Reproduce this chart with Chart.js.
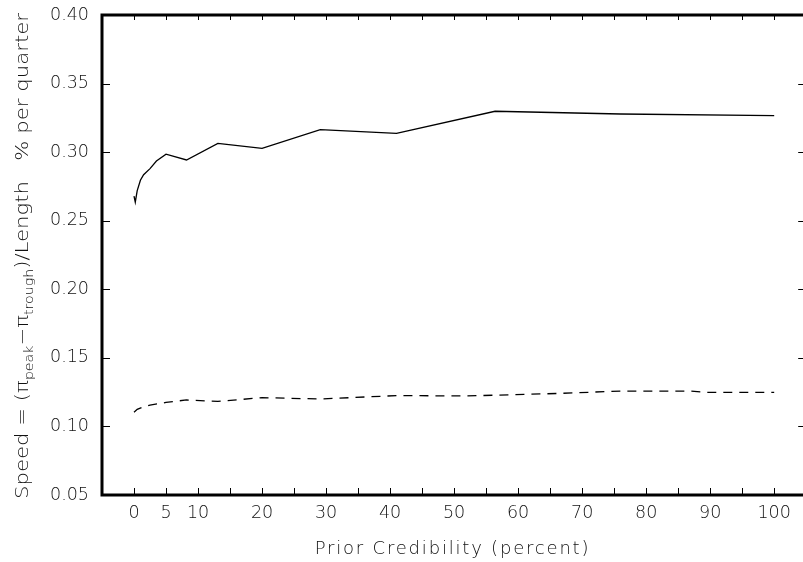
<!DOCTYPE html>
<html>
<head>
<meta charset="utf-8">
<script src="https://cdn.jsdelivr.net/npm/chart.js@4.4.0/dist/chart.umd.min.js"></script>
<style>
  html, body { margin: 0; padding: 0; background: #fff; overflow: hidden; }
  #wrap { width: 803px; height: 562px; position: relative; }
</style>
</head>
<body>
<div id="wrap"><canvas id="speedChart" width="803" height="562"></canvas></div>
<script>
// prior credibility (percent) and speed
const solidX = [0, 0.2, 0.5, 1, 1.5, 2.5, 3.5, 5, 8.2, 13.1, 20, 29.1, 41, 56.4, 76, 100];
const solidY = [0.268, 0.2635, 0.272, 0.2795, 0.2835, 0.288, 0.2935, 0.2985, 0.2943, 0.3064, 0.3028, 0.3164, 0.3137, 0.3298, 0.3278, 0.3266];

const dashedX = [0, 0.5, 1.5, 2.5, 5, 8.2, 13.1, 20, 29.1, 41, 52, 56.4, 66, 76, 87, 89, 100];
const dashedY = [0.1103, 0.1125, 0.1144, 0.1156, 0.1175, 0.1193, 0.1182, 0.1210, 0.1200, 0.1225, 0.1222, 0.1228, 0.1240, 0.1258, 0.1258, 0.1249, 0.1249];

const xTickMarks = [0, 5, 10, 15, 20, 25, 30, 35, 40, 45, 50, 55, 60, 65, 70, 75, 80, 85, 90, 95, 100];
const xTickLabels = [0, 5, 10, 20, 30, 40, 50, 60, 70, 80, 90, 100];
const yTickLabels = [0.05, 0.10, 0.15, 0.20, 0.25, 0.30, 0.35, 0.40];

const xTitle = 'Prior Credibility (percent)';
// y title pieces: [text, is subscript]
const yTitleParts = [
  ['Speed = (\u03c0', false],
  ['peak', true],
  ['\u2212\u03c0', false],
  ['trough', true],
  [')/Length   % per quarter', false]
];

const FONT = 'DejaVu Sans';
const INK = '#111';

// box round the plot, with the small inward ticks on all four sides
const framePlugin = {
  id: 'frame',
  afterDatasetsDraw(chart) {
    const { ctx, chartArea: a, scales: { x, y } } = chart;
    const right = x.getPixelForValue(105); // right edge falls just off the canvas
    ctx.save();
    ctx.strokeStyle = '#000';
    ctx.lineWidth = 1;
    ctx.beginPath();
    x.ticks.forEach(t => {
      const px = Math.round(x.getPixelForValue(t.value)) + 0.5;
      ctx.moveTo(px, a.bottom); ctx.lineTo(px, a.bottom - 7);
      ctx.moveTo(px, a.top); ctx.lineTo(px, a.top + 5);
    });
    y.ticks.forEach(t => {
      const py = Math.round(y.getPixelForValue(t.value)) + 0.5;
      ctx.moveTo(a.left, py); ctx.lineTo(a.left + 8, py);
      ctx.moveTo(right, py); ctx.lineTo(right - 8, py);
    });
    ctx.stroke();
    ctx.lineWidth = 3;
    ctx.strokeRect(a.left, a.top, right - a.left, a.bottom - a.top);
    ctx.restore();
  }
};

// axis titles drawn by hand: the y one needs subscripts, both are set wide
const titlesPlugin = {
  id: 'titles',
  afterDraw(chart) {
    const { ctx, chartArea: a } = chart;
    const big = '200 18px "' + FONT + '"';
    const small = '200 12px "' + FONT + '"';
    ctx.save();
    ctx.fillStyle = INK;
    ctx.textBaseline = 'alphabetic';

    // x title
    ctx.font = big;
    ctx.letterSpacing = '1.8px';
    ctx.textAlign = 'center';
    ctx.fillText(xTitle, (a.left + 803) / 2, 554);

    // y title, stretched along its length to the reference span
    ctx.textAlign = 'left';
    ctx.letterSpacing = '0px';
    let total = 0;
    const widths = yTitleParts.map(([t, sub]) => {
      ctx.font = sub ? small : big;
      const w = ctx.measureText(t).width;
      total += w;
      return w;
    });
    const target = 486;
    ctx.translate(28, (a.top + a.bottom) / 2 + 1);
    ctx.rotate(-Math.PI / 2);
    ctx.scale(target / total, 1);
    let pos = -total / 2;
    yTitleParts.forEach(([t, sub], i) => {
      ctx.font = sub ? small : big;
      ctx.fillText(t, pos, sub ? 5 : 0);
      pos += widths[i];
    });
    ctx.restore();
  }
};

const ctx = document.getElementById('speedChart').getContext('2d');

const speedChart = new Chart(ctx, {
  type: 'line',
  data: {
    datasets: [{
      label: 'solid',
      data: solidX.map((v, i) => ({ x: v, y: solidY[i] })),
      borderColor: '#000',
      borderWidth: 1.3,
      pointRadius: 0,
      tension: 0,
      fill: false
    }, {
      label: 'dashed',
      data: dashedX.map((v, i) => ({ x: v, y: dashedY[i] })),
      borderColor: '#000',
      borderWidth: 1.3,
      borderDash: [9, 7],
      pointRadius: 0,
      tension: 0,
      fill: false
    }]
  },
  options: {
    responsive: false,
    animation: false,
    layout: { padding: { top: 15, right: 0, left: 0, bottom: 0 } },
    plugins: {
      legend: { display: false },
      tooltip: { enabled: false }
    },
    scales: {
      x: {
        type: 'linear',
        min: -5,
        max: 104.5,
        grid: { display: false, drawTicks: false },
        border: { display: false },
        afterBuildTicks: scale => { scale.ticks = xTickMarks.map(v => ({ value: v })); },
        afterFit: scale => {
          scale.height = 67;
          scale.paddingLeft = 0; scale.paddingRight = 0;
        },
        ticks: {
          autoSkip: false,
          maxRotation: 0,
          padding: 8,
          color: INK,
          font: { family: FONT, size: 17.5, weight: 200 },
          callback: v => xTickLabels.includes(v) ? String(v) : ''
        }
      },
      y: {
        min: 0.05,
        max: 0.40,
        grid: { display: false, drawTicks: false },
        border: { display: false },
        afterBuildTicks: scale => { scale.ticks = yTickLabels.map(v => ({ value: v })); },
        afterFit: scale => {
          scale.width = 102;
          scale.paddingTop = 0; scale.paddingBottom = 0;
        },
        ticks: {
          padding: 13,
          color: INK,
          font: { family: FONT, size: 17.5, weight: 200 },
          callback: v => v.toFixed(2)
        }
      }
    }
  },
  plugins: [framePlugin, titlesPlugin]
});
</script>
</body>
</html>
